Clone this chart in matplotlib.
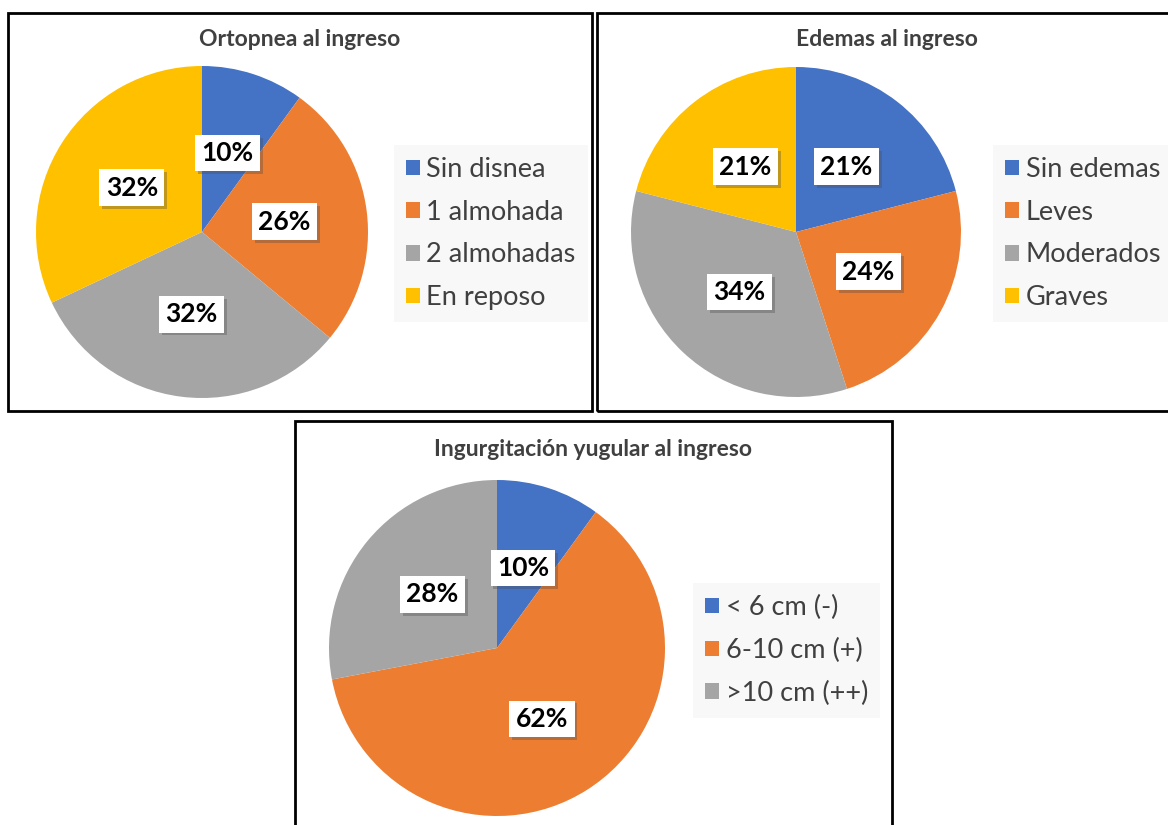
import matplotlib.pyplot as plt
import matplotlib.patheffects as pe
from matplotlib.patches import Rectangle

W, H = 1168, 825

# Datos de cada gráfico
ortopnea_cat = ['Sin disnea', '1 almohada', '2 almohadas', 'En reposo']
ortopnea_val = [10, 26, 32, 32]

edemas_cat = ['Sin edemas', 'Leves', 'Moderados', 'Graves']
edemas_val = [21, 24, 34, 21]

yugular_cat = ['< 6 cm (-)', '6-10 cm (+)', '>10 cm (++)']
yugular_val = [10, 62, 28]

colores = ['#4472C4', '#ED7D31', '#A5A5A5', '#FFC000']

plt.rcParams['font.family'] = ['Lato', 'DejaVu Sans']

fig = plt.figure(figsize=(W / 100, H / 100), dpi=100)


def px(x, y):
    # coordenadas en pixeles (origen arriba a la izquierda) -> figura
    return x / W, 1 - y / H


def marco(x0, y0, x1, y1):
    r = Rectangle(px(x0, y1), (x1 - x0) / W, (y1 - y0) / H, transform=fig.transFigure,
                  fill=False, edgecolor='black', linewidth=2)
    fig.patches.append(r)


def torta(cx, cy, r, valores, categorias, titulo, tx, ty, leg_xy):
    ax = fig.add_axes([(cx - r) / W, (H - cy - r) / H, 2 * r / W, 2 * r / H])
    wedges, textos = ax.pie(valores, colors=colores[:len(valores)], startangle=90,
                            counterclock=False, labels=[f'{v}%' for v in valores],
                            labeldistance=0.5, wedgeprops=dict(linewidth=0))
    for t in textos:
        t.set_fontsize(19)
        t.set_fontweight('bold')
        t.set_ha('center')
        t.set_va('center')
        t.set_bbox(dict(facecolor='white', edgecolor='none', pad=4.5))
        t.get_bbox_patch().set_path_effects([pe.SimplePatchShadow(offset=(2, -2), alpha=0.35),
                                             pe.Normal()])
    ax.set_xlim(-1, 1)
    ax.set_ylim(-1, 1)
    ax.set_aspect('equal')
    fig.text(*px(tx, ty), titulo, ha='center', va='center', fontsize=16.5,
             fontweight='bold', color='#404040')
    leg = fig.legend(wedges, categorias, loc='upper left', bbox_to_anchor=px(*leg_xy),
                     frameon=True, fontsize=19.5, handlelength=0.5, handleheight=0.5,
                     handletextpad=0.25, labelspacing=0.65, borderpad=0.45,
                     borderaxespad=0, fancybox=False)
    leg.get_frame().set_facecolor('#F7F7F7')
    leg.get_frame().set_edgecolor('none')
    for t in leg.get_texts():
        t.set_color('#404040')


marco(8, 13, 592, 411)
marco(597, 13, 1180, 411)
marco(295, 421, 892, 835)

torta(202, 232, 166, ortopnea_val, ortopnea_cat, 'Ortopnea al ingreso', 300, 40, (394, 145))
torta(796, 232, 165, edemas_val, edemas_cat, 'Edemas al ingreso', 887, 40, (993, 145))
torta(497, 648, 168, yugular_val, yugular_cat, 'Ingurgitación yugular al ingreso', 593, 450, (693, 583))

fig.savefig('out.png', dpi=100)
